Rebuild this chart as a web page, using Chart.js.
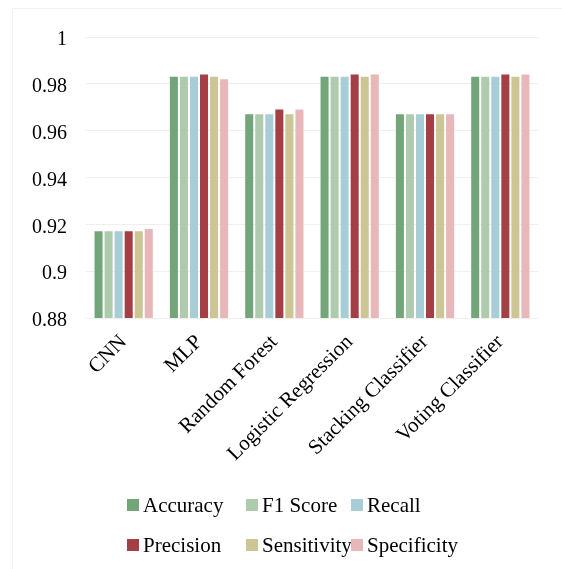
<!DOCTYPE html>
<html>
<head>
<meta charset="utf-8">
<script src="https://cdn.jsdelivr.net/npm/chart.js"></script>
<style>
  html, body { margin: 0; padding: 0; background: #ffffff; overflow: hidden; }
  #wrap { width: 562px; height: 569px; position: relative; }
</style>
</head>
<body>
<div id="wrap"><canvas id="c" width="562" height="569"></canvas></div>
<script>
// data
const models = ['CNN', 'MLP', 'Random Forest', 'Logistic Regression', 'Stacking Classifier', 'Voting Classifier'];
const accuracy    = [0.917, 0.983, 0.967, 0.983, 0.967, 0.983];
const f1Score     = [0.917, 0.983, 0.967, 0.983, 0.967, 0.983];
const recall      = [0.917, 0.983, 0.967, 0.983, 0.967, 0.983];
const precision   = [0.917, 0.984, 0.969, 0.984, 0.967, 0.984];
const sensitivity = [0.917, 0.983, 0.967, 0.983, 0.967, 0.983];
const specificity = [0.918, 0.982, 0.969, 0.984, 0.967, 0.984];
const yTicks = [0.88, 0.9, 0.92, 0.94, 0.96, 0.98, 1];

const serif = '"Liberation Serif", "Times New Roman", serif';

// faint frame + legend laid out in two rows of three columns
const framePlugin = {
  id: 'frame',
  beforeDraw(chart) {
    const ctx = chart.ctx;
    ctx.save();
    ctx.strokeStyle = '#f0f0f0';
    ctx.lineWidth = 1;
    ctx.beginPath();
    ctx.moveTo(12.5, 569);
    ctx.lineTo(12.5, 8.5);
    ctx.lineTo(562, 8.5);
    ctx.stroke();
    ctx.restore();
  },
  afterDraw(chart) {
    const ctx = chart.ctx;
    const cols = [127, 246, 351];
    const rows = [505, 545];
    ctx.save();
    ctx.font = '21px ' + serif;
    ctx.textBaseline = 'middle';
    ctx.textAlign = 'left';
    chart.data.datasets.forEach((ds, i) => {
      const x = cols[i % 3], y = rows[Math.floor(i / 3)];
      ctx.fillStyle = ds.backgroundColor;
      ctx.fillRect(x, y - 6, 12, 12);
      ctx.fillStyle = '#000000';
      ctx.fillText(ds.label, x + 16, y + 1);
    });
    ctx.restore();
  }
};

function ds(label, data, color) {
  return { label: label, data: data, backgroundColor: color, borderWidth: 0,
           categoryPercentage: 0.8, barPercentage: 0.8 };
}

new Chart(document.getElementById('c'), {
  type: 'bar',
  data: {
    labels: models,
    datasets: [
      ds('Accuracy', accuracy, '#72a678'),
      ds('F1 Score', f1Score, '#aecbae'),
      ds('Recall', recall, '#a8cdd7'),
      ds('Precision', precision, '#a33f45'),
      ds('Sensitivity', sensitivity, '#cdc694'),
      ds('Specificity', specificity, '#e8b7b9')
    ]
  },
  options: {
    responsive: false,
    animation: false,
    layout: { padding: { top: 37, right: 24, bottom: 0, left: 0 } },
    plugins: { legend: { display: false }, tooltip: { enabled: false } },
    scales: {
      x: {
        grid: { display: false, drawTicks: false },
        border: { display: false },
        ticks: { color: '#000', font: { family: serif, size: 21 }, maxRotation: 45, minRotation: 45, padding: 12 },
        afterFit(s) { s.height = 251; }
      },
      y: {
        min: 0.88, max: 1,
        afterBuildTicks(s) { s.ticks = yTicks.map(v => ({ value: v })); },
        grid: { color: '#efefef', lineWidth: 1, drawTicks: false },
        border: { display: false },
        ticks: { color: '#000', font: { family: serif, size: 20 }, padding: 19, labelOffset: 3,
                 callback: v => String(Math.round(v * 100) / 100) },
        afterFit(s) { s.width = 86; }
      }
    }
  },
  plugins: [framePlugin]
});
</script>
</body>
</html>
